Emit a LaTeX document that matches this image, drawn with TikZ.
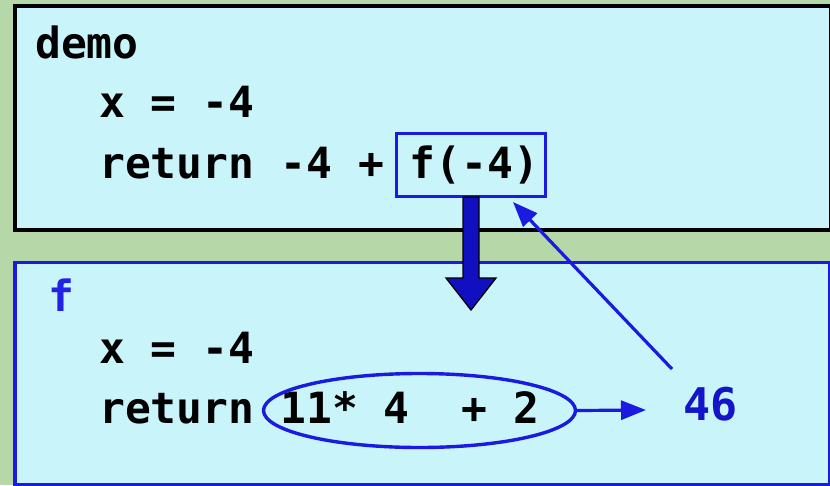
\documentclass[tikz,border=0pt]{standalone}
\usepackage{fontspec}
\newfontfamily\codefont{DejaVu Sans Mono}
\usetikzlibrary{arrows.meta,shapes.geometric}
\definecolor{bggreen}{HTML}{B6D7A8}
\definecolor{boxcyan}{HTML}{C9F5FA}
\definecolor{lineblue}{HTML}{1A1AE0}
\definecolor{arrowblue}{HTML}{1010C0}
\definecolor{textblue}{HTML}{2222E6}
\definecolor{valblue}{HTML}{1414C8}
\begin{document}
\begin{tikzpicture}[x=1pt,y=-1pt,
  code/.style={anchor=base west, inner sep=0pt, font=\codefont\bfseries\fontsize{43}{50}\selectfont},
  frame/.style={fill=boxcyan, line width=#1},
  thinarrow/.style={draw=lineblue, line width=3.2pt, -{Triangle[length=25pt,width=19pt]}},
  bigarrow/.style={fill=arrowblue, draw=black, line width=1.3pt, line join=miter}]
\useasboundingbox (0,0) rectangle (830,485);
\fill[bggreen] (0,0) rectangle (830,485);
% frames
\draw[frame=4.5pt, draw=black] (15,6) rectangle (831,230);
\draw[frame=3.5pt, draw=lineblue] (15,262.5) rectangle (829.5,484.5);
% top frame text
\node[code] (demo) at (35,58) {demo};
\node[code] (x1) at (99,117) {x = -4};
\node[code] (ret1) at (99,178) {return -4 + f(-4)};
\node[draw=lineblue, line width=3.6pt, minimum width=149pt, minimum height=63pt, inner sep=0pt] (call) at (471,165) {};
% bottom frame text
\node[code, text=textblue] (fname) at (48,311) {f};
\node[code] (x2) at (99,363) {x = -4};
\node[code] (ret2) at (99,423) {return 11* 4\ \ + 2};
\node[draw=lineblue, line width=3.4pt, ellipse, minimum width=312pt, minimum height=74pt, inner sep=0pt] (ell) at (419.5,410.5) {};
\node[code, text=valblue, font=\codefont\bfseries\fontsize{45}{50}\selectfont] (val) at (683,420) {46};
% call arrow
\draw[bigarrow] (463,197) -- (463,278) -- (446,278) -- (471,310) -- (496,278) -- (479,278) -- (479,197) -- cycle;
% result arrows
\coordinate (restip) at (646,410);
\draw[thinarrow] (ell.east) -- (restip);
\coordinate (retstart) at (672,369);
\coordinate (rettip) at (513,202);
\draw[thinarrow] (retstart) -- (rettip);
\end{tikzpicture}
\end{document}
